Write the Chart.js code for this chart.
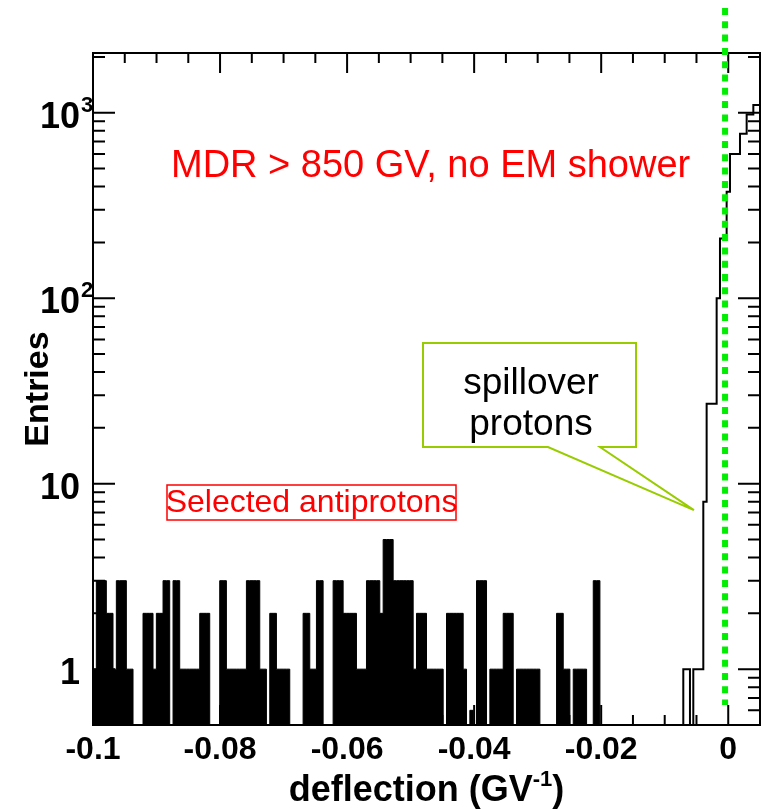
<!DOCTYPE html>
<html>
<head>
<meta charset="utf-8">
<script src="https://cdn.jsdelivr.net/npm/chart.js@4.4.0/dist/chart.umd.min.js"></script>
<style>
  html, body { margin: 0; padding: 0; background: #fff; }
  canvas { display: block; }
</style>
</head>
<body>
<canvas id="deflectionChart" width="763" height="809"></canvas>
<script>
// histogram binning (GV^-1)
const xLow = -0.1;
const xHigh = 0.005;
const nBins = 200;

// selected antiprotons, filled, starting at bin 0
const antiprotonFirstBin = 0;
const antiprotonCounts = [
  1, 3, 3, 3, 2, 2, 1, 3, 3, 3,
  1, 1, 0, 0, 0, 2, 2, 2, 1, 2,
  2, 3, 3, 0, 3, 3, 1, 1, 1, 1,
  1, 1, 2, 2, 2, 0, 0, 0, 3, 3,
  1, 1, 1, 1, 1, 1, 3, 3, 3, 3,
  1, 1, 0, 2, 2, 1, 1, 1, 1, 0,
  0, 0, 0, 2, 2, 1, 1, 3, 3, 0,
  0, 0, 3, 3, 3, 2, 2, 2, 2, 1,
  1, 1, 3, 3, 3, 3, 2, 5, 5, 5,
  3, 3, 3, 3, 3, 3, 1, 2, 2, 2,
  1, 1, 1, 1, 1, 0, 2, 2, 2, 2,
  2, 1, 0, 0.6, 0, 3, 3, 3, 0, 1,
  1, 1, 1, 2, 2, 2, 0, 1, 1, 1,
  1, 1, 1, 1, 0, 0, 0, 0, 0, 2,
  2, 1, 1, 0, 1, 1, 1, 1, 0, 0,
  3, 3, 0
];

// spillover protons, outline only
const protonFirstBin = 176;
const protonCounts = [
  0, 1, 1, 0, 1, 1, 1, 8, 27, 27,
  27, 100, 210, 210, 375, 600, 600, 600, 770, 770,
  980, 980, 1100, 1100
];

// axis ticks
const xTickValues = [-0.1, -0.08, -0.06, -0.04, -0.02, 0];
const xTickLabels = ['-0.1', '-0.08', '-0.06', '-0.04', '-0.02', '0'];
const yTickValues = [1, 10, 100, 1000];
const yTickBase = ['1', '10', '10', '10'];
const yTickExp = ['', '', '2', '3'];

const yMin = 0.5;
const yMax = 2100;
const cutMarker = -0.0005;   // green dotted line

const FONT = "'Liberation Sans', Arial, Helvetica, sans-serif";

// points at the bin edges; empty bins sit on the axis floor (log scale)
function stepPoints(firstBin, counts) {
    const w = (xHigh - xLow) / nBins;
    const pts = counts.map((c, i) => ({ x: xLow + (firstBin + i) * w, y: Math.max(c, yMin) }));
    pts.push({ x: xLow + (firstBin + counts.length) * w, y: Math.max(counts[counts.length - 1], yMin) });
    return pts;
}

// frame, inward ticks, labels and the slide annotations
const rootStyle = {
    id: 'rootStyle',
    afterDraw(chart) {
        const ctx = chart.ctx;
        const { left, right, top, bottom } = chart.chartArea;
        const xs = chart.scales.x;
        const ys = chart.scales.y;
        ctx.save();

        // frame
        ctx.strokeStyle = '#000';
        ctx.lineWidth = 2;
        ctx.strokeRect(left, top, right - left, bottom - top);

        // x ticks (top and bottom)
        ctx.beginPath();
        for (let i = 0; i <= 21; i++) {
            const v = xLow + i * 0.005;
            const px = xs.getPixelForValue(v);
            if (px <= left + 1 || px >= right - 1) continue;
            const major = Math.abs(Math.round(v / 0.02) * 0.02 - v) < 1e-9;
            const len = major ? 20 : 10;
            ctx.moveTo(px, bottom); ctx.lineTo(px, bottom - len);
            ctx.moveTo(px, top); ctx.lineTo(px, top + len);
        }
        // y ticks (left and right)
        for (let e = -1; e <= 3; e++) {
            for (let d = 1; d <= 9; d++) {
                const v = d * Math.pow(10, e);
                if (v <= yMin || v >= yMax) continue;
                const py = ys.getPixelForValue(v);
                const len = d === 1 ? 22 : 12;
                ctx.moveTo(left, py); ctx.lineTo(left + len, py);
                ctx.moveTo(right, py); ctx.lineTo(right - len, py);
            }
        }
        ctx.stroke();

        // y labels with exponents
        ctx.fillStyle = '#000';
        ctx.textBaseline = 'alphabetic';
        yTickValues.forEach((v, i) => {
            const py = ys.getPixelForValue(v);
            ctx.font = 'bold 36px ' + FONT;
            ctx.textAlign = 'right';
            ctx.fillText(yTickBase[i], 80, py + 15);
            if (yTickExp[i]) {
                ctx.font = 'bold 22px ' + FONT;
                ctx.textAlign = 'left';
                ctx.fillText(yTickExp[i], 81, py - 1);
            }
        });

        // x title with superscript
        const mainPart = 'deflection (GV';
        const supPart = '-1';
        const endPart = ')';
        ctx.font = 'bold 36px ' + FONT;
        const w1 = ctx.measureText(mainPart).width;
        const w3 = ctx.measureText(endPart).width;
        ctx.font = 'bold 22px ' + FONT;
        const w2 = ctx.measureText(supPart).width;
        const tx = (left + right) / 2 - (w1 + w2 + w3) / 2;
        ctx.textAlign = 'left';
        ctx.font = 'bold 36px ' + FONT;
        ctx.fillText(mainPart, tx, 801);
        ctx.font = 'bold 22px ' + FONT;
        ctx.fillText(supPart, tx + w1, 786);
        ctx.font = 'bold 36px ' + FONT;
        ctx.fillText(endPart, tx + w1 + w2, 801);

        // red headline
        ctx.fillStyle = '#ff0000';
        ctx.font = '38px ' + FONT;
        ctx.textAlign = 'left';
        ctx.fillText('MDR > 850 GV, no EM shower', 171, 177);

        // selected antiprotons box
        ctx.strokeStyle = '#ff0000';
        ctx.lineWidth = 1.5;
        ctx.strokeRect(167, 485, 289, 35);
        ctx.font = '32px ' + FONT;
        ctx.textAlign = 'center';
        ctx.fillText('Selected antiprotons', 311.5, 512);

        // spillover callout
        const tipX = xs.getPixelForValue(-0.0054);
        const tipY = ys.getPixelForValue(7.2);
        ctx.beginPath();
        ctx.moveTo(423, 343);
        ctx.lineTo(636, 343);
        ctx.lineTo(636, 447);
        ctx.lineTo(600, 447);
        ctx.lineTo(tipX, tipY);
        ctx.lineTo(548, 447);
        ctx.lineTo(423, 447);
        ctx.closePath();
        ctx.fillStyle = '#fff';
        ctx.fill();
        ctx.strokeStyle = '#99cc00';
        ctx.lineWidth = 2;
        ctx.stroke();
        ctx.fillStyle = '#000';
        ctx.font = '37px ' + FONT;
        ctx.fillText('spillover', 531, 394);
        ctx.fillText('protons', 531, 435);

        // green dotted marker line
        const gx = xs.getPixelForValue(cutMarker);
        ctx.strokeStyle = '#00ee00';
        ctx.lineWidth = 6;
        ctx.setLineDash([7, 6.3]);
        ctx.beginPath();
        ctx.moveTo(gx, 8);
        ctx.lineTo(gx, bottom - 20);
        ctx.stroke();

        ctx.restore();
    }
};

function initializeDeflectionChart() {
    const ctx = document.getElementById('deflectionChart').getContext('2d');

    new Chart(ctx, {
        type: 'line',
        data: {
            datasets: [{
                label: 'Selected antiprotons',
                data: stepPoints(antiprotonFirstBin, antiprotonCounts),
                stepped: true,
                fill: 'start',
                backgroundColor: '#000',
                borderColor: '#000',
                borderWidth: 1,
                pointRadius: 0
            }, {
                label: 'Spillover protons',
                data: stepPoints(protonFirstBin, protonCounts),
                stepped: true,
                fill: false,
                borderColor: '#000',
                borderWidth: 2,
                pointRadius: 0
            }]
        },
        options: {
            responsive: false,
            animation: false,
            devicePixelRatio: 1,
            layout: { padding: { top: 53, right: 3, left: 0, bottom: 0 } },
            plugins: {
                legend: { display: false },
                tooltip: { enabled: false }
            },
            scales: {
                x: {
                    type: 'linear',
                    min: xLow,
                    max: xHigh,
                    grid: { display: false, drawTicks: false },
                    border: { display: false },
                    afterBuildTicks: scale => {
                        scale.ticks = xTickValues.map(v => ({ value: v }));
                    },
                    ticks: {
                        autoSkip: false,
                        maxRotation: 0,
                        padding: 6,
                        color: '#000',
                        font: { family: FONT, weight: 'bold', size: 32 },
                        callback: (value, index) => xTickLabels[index]
                    },
                    afterFit: scale => { scale.height = 84; }
                },
                y: {
                    type: 'logarithmic',
                    min: yMin,
                    max: yMax,
                    grid: { display: false, drawTicks: false },
                    border: { display: false },
                    ticks: { display: false },
                    title: {
                        display: true,
                        text: 'Entries',
                        color: '#000',
                        font: { family: FONT, weight: 'bold', size: 34 },
                        padding: { top: 18, bottom: 0 }
                    },
                    afterFit: scale => { scale.width = 93; }
                }
            }
        },
        plugins: [rootStyle]
    });
}

document.addEventListener('DOMContentLoaded', initializeDeflectionChart);
</script>
</body>
</html>
